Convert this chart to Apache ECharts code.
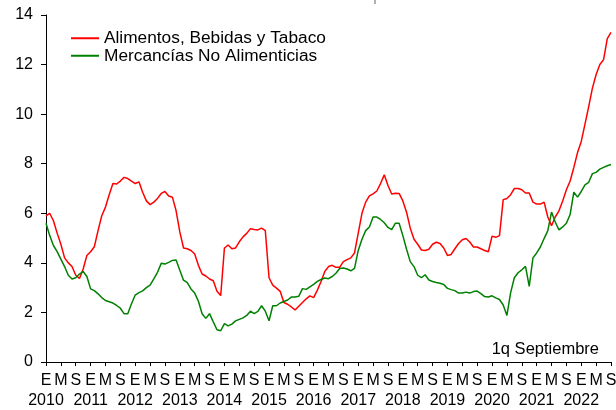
<!DOCTYPE html>
<html>
<head>
<meta charset="utf-8">
<script src="https://cdn.jsdelivr.net/npm/echarts@6/dist/echarts.min.js"></script>
<style>
html,body{margin:0;padding:0;background:#fff;}
#chart{width:616px;height:410px;}
</style>
</head>
<body>
<div id="chart"></div>
<script>
// Years covered by the axis (monthly data Jan 2010 - Sep 2022)
const years = [2010, 2011, 2012, 2013, 2014, 2015, 2016, 2017, 2018, 2019, 2020, 2021, 2022];
// Tick labels shown every 4 months (Enero, Mayo, Septiembre)
const tickLetters = ['E', 'M', 'S'];
const seriesNames = ['Alimentos, Bebidas y Tabaco', 'Mercancías No Alimenticias'];
const noteText = '1q Septiembre';

const alimentos = [
  5.9, 6.0, 5.7, 5.2, 4.75, 4.2, 4.0, 3.85, 3.5, 3.37, 3.75, 4.3,
  4.45, 4.65, 5.3, 5.9, 6.25, 6.75, 7.2, 7.18, 7.3, 7.45, 7.4, 7.3,
  7.2, 7.27, 6.85, 6.5, 6.35, 6.45, 6.6, 6.8, 6.88, 6.7, 6.65, 6.1,
  5.25, 4.6, 4.57, 4.5, 4.36, 3.9, 3.55, 3.47, 3.35, 3.28, 2.85, 2.68,
  4.6, 4.72, 4.57, 4.6, 4.85, 5.05, 5.19, 5.38, 5.35, 5.33, 5.4, 5.3,
  3.4, 3.1, 2.98, 2.85, 2.4, 2.33, 2.22, 2.1, 2.25, 2.4, 2.55, 2.67,
  2.6, 2.9, 3.25, 3.65, 3.85, 3.9, 3.82, 3.82, 4.05, 4.13, 4.2, 4.4,
  5.2, 6.0, 6.45, 6.7, 6.78, 6.9, 7.2, 7.55, 7.12, 6.78, 6.81, 6.8,
  6.5, 6.04, 5.4, 4.95, 4.75, 4.52, 4.5, 4.55, 4.75, 4.83, 4.78, 4.6,
  4.3, 4.34, 4.57, 4.78, 4.93, 4.98, 4.84, 4.64, 4.64, 4.57, 4.5, 4.45,
  5.08, 5.03, 5.1, 6.55, 6.6, 6.75, 7.0, 7.0, 6.95, 6.82, 6.82, 6.45,
  6.37, 6.37, 6.45, 5.85, 5.5, 5.85, 6.1, 6.5, 6.95, 7.3, 7.85, 8.45,
  8.9, 9.6, 10.3, 11.05, 11.6, 12.0, 12.2, 13.05, 13.3
];

const noAlimenticias = [
  5.6, 5.1, 4.7, 4.45, 4.15, 3.85, 3.5, 3.35, 3.4, 3.55, 3.65, 3.45,
  2.95, 2.88, 2.75, 2.6, 2.48, 2.43, 2.38, 2.28, 2.17, 1.95, 1.95, 2.35,
  2.7, 2.8, 2.87, 3.0, 3.1, 3.35, 3.62, 3.98, 3.95, 4.02, 4.1, 4.12,
  3.7, 3.3, 3.2, 2.95, 2.78, 2.45, 1.95, 1.76, 1.95, 1.62, 1.3, 1.26,
  1.55, 1.46, 1.53, 1.66, 1.72, 1.78, 1.88, 2.05, 1.95, 2.04, 2.27, 2.05,
  1.66, 2.27, 2.27, 2.38, 2.44, 2.5, 2.62, 2.62, 2.65, 2.96, 2.93, 3.03,
  3.13, 3.25, 3.33, 3.39, 3.36, 3.45, 3.58, 3.77, 3.79, 3.75, 3.68, 3.78,
  4.5, 4.95, 5.3, 5.45, 5.85, 5.85, 5.75, 5.62, 5.43, 5.34, 5.6, 5.6,
  5.1, 4.55, 4.05, 3.85, 3.5, 3.4, 3.52, 3.31, 3.25, 3.21, 3.18, 3.13,
  2.97, 2.92, 2.88, 2.78, 2.78, 2.82, 2.78, 2.84, 2.86, 2.76, 2.64, 2.62,
  2.67, 2.59, 2.52, 2.3, 1.88, 2.8, 3.4, 3.6, 3.72, 3.86, 3.05, 4.2,
  4.4, 4.64, 4.98, 5.3, 6.05, 5.65, 5.33, 5.45, 5.6, 5.95, 6.85, 6.65,
  6.88, 7.15, 7.25, 7.6, 7.65, 7.78, 7.85, 7.92, 7.97
];

// Monthly categories built from the years list, trimmed to the data length
const categories = [];
years.forEach(function (y) {
  for (let m = 1; m <= 12; m++) categories.push(y + '-' + (m < 10 ? '0' + m : m));
});
categories.length = alimentos.length;

const FONT = "'Liberation Sans', Arial, sans-serif";
const isTick = function (idx) { return idx % 4 === 0; };
const isYearStart = function (idx) { return idx % 12 === 0; };

const chart = echarts.init(document.getElementById('chart'), null, { renderer: 'canvas' });
chart.setOption({
  animation: false,
  backgroundColor: '#ffffff',
  grid: { left: 46, right: 5, top: 15, bottom: 48, outerBoundsMode: 'none', containLabel: false },
  legend: {
    orient: 'vertical',
    left: 71,
    top: 29.5,
    padding: 0,
    itemGap: 0,
    itemWidth: 28,
    itemHeight: 2,
    icon: 'rect',
    textStyle: { fontFamily: FONT, fontSize: 17.3, color: '#000', lineHeight: 17.5 },
    data: seriesNames
  },
  xAxis: [
    {
      type: 'category',
      data: categories,
      boundaryGap: false,
      position: 'bottom',
      axisLine: { show: true, lineStyle: { color: '#000', width: 1 } },
      axisTick: { show: true, interval: isTick, length: 4, lineStyle: { color: '#000' } },
      axisLabel: {
        interval: isTick,
        hideOverlap: false,
        margin: 11,
        fontFamily: FONT,
        fontSize: 16,
        color: '#000',
        formatter: function (val, idx) {
          return isTick(idx) ? tickLetters[Math.floor((idx % 12) / 4)] : '';
        }
      },
      splitLine: { show: false }
    },
    {
      type: 'category',
      data: categories,
      boundaryGap: false,
      position: 'bottom',
      axisLine: { show: false },
      axisTick: { show: false },
      axisLabel: {
        interval: isYearStart,
        hideOverlap: false,
        margin: 31,
        fontFamily: FONT,
        fontSize: 16,
        color: '#000',
        formatter: function (val, idx) {
          return isYearStart(idx) ? String(years[Math.floor(idx / 12)]) : '';
        }
      },
      splitLine: { show: false }
    }
  ],
  yAxis: {
    type: 'value',
    min: 0,
    max: 14,
    interval: 2,
    axisLine: { show: true, lineStyle: { color: '#000', width: 1 } },
    axisTick: { show: true, length: 5, lineStyle: { color: '#000' } },
    axisLabel: { fontFamily: FONT, fontSize: 16, color: '#000', margin: 13 },
    splitLine: { show: false }
  },
  series: [
    {
      name: seriesNames[0],
      type: 'line',
      data: alimentos,
      showSymbol: false,
      symbol: 'none',
      color: '#ff0000',
      lineStyle: { color: '#ff0000', width: 1.5 }
    },
    {
      name: seriesNames[1],
      type: 'line',
      data: noAlimenticias,
      showSymbol: false,
      symbol: 'none',
      color: '#008000',
      lineStyle: { color: '#008000', width: 1.5 }
    }
  ],
  graphic: [
    {
      type: 'text',
      right: 17,
      top: 341,
      style: { text: noteText, fontFamily: FONT, fontSize: 16.5, fill: '#000' }
    },
    {
      type: 'line',
      shape: { x1: 375, y1: 0, x2: 375, y2: 4 },
      style: { stroke: '#b0b0b0', lineWidth: 2 }
    }
  ]
});
</script>
</body>
</html>
